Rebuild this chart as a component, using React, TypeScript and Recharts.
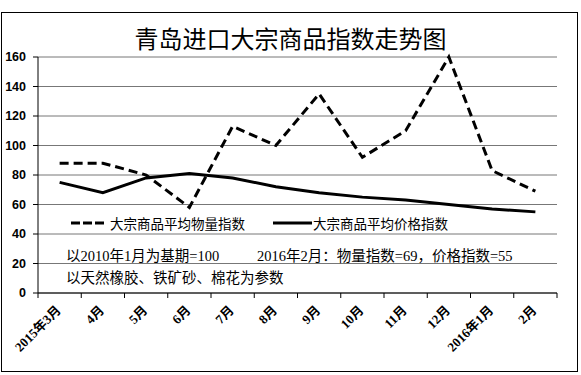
import { LineChart, Line, XAxis, YAxis, CartesianGrid } from 'recharts';

const months = ['2015年3月', '4月', '5月', '6月', '7月', '8月', '9月', '10月', '11月', '12月', '2016年1月', '2月'];
const volumeIndex = [88, 88, 80, 58, 113, 100, 135, 92, 110, 160, 83, 69];
const priceIndex = [75, 68, 78, 81, 78, 72, 68, 65, 63, 60, 57, 55];
const yTicks = [0, 20, 40, 60, 80, 100, 120, 140, 160];

const title = '青岛进口大宗商品指数走势图';
const volumeName = '大宗商品平均物量指数';
const priceName = '大宗商品平均价格指数';
const noteBase = '以2010年1月为基期=100';
const noteLatest = '2016年2月：物量指数=69，价格指数=55';
const noteParams = '以天然橡胶、铁矿砂、棉花为参数';

const W = 581;
const H = 375;
const PLOT_LEFT = 38;
const PLOT_RIGHT = 557;
const PLOT_TOP = 57;
const PLOT_BOTTOM = 293;
const step = (PLOT_RIGHT - PLOT_LEFT) / months.length;

const data = months.map((m, i) => ({ month: m, volume: volumeIndex[i], price: priceIndex[i] }));

const textFont = "'Liberation Serif', 'Noto Sans CJK SC', serif";
const cjkFont = "'Noto Sans CJK SC', sans-serif";

function MonthTick(props: any) {
  const { x, y, payload, index } = props;
  const ax = x + 2;
  const ay = y + 18;
  return (
    <g>
      <line x1={x - step / 2} x2={x - step / 2} y1={y} y2={y + 5} stroke="#000" />
      {index === months.length - 1 && (
        <line x1={x + step / 2} x2={x + step / 2} y1={y} y2={y + 5} stroke="#000" />
      )}
      <text
        x={ax}
        y={ay}
        transform={`rotate(-45 ${ax} ${ay})`}
        textAnchor="end"
        fontSize={13}
        fontWeight="bold"
        fontFamily={textFont}
        fill="#000"
      >
        {payload.value}
      </text>
    </g>
  );
}

function LegendItem({ dashed, label, left, width }: { dashed: boolean; label: string; left: number; width: number }) {
  return (
    <div style={{ position: 'absolute', left, top: 213, height: 20, display: 'flex', alignItems: 'center' }}>
      <svg width={width} height={6} style={{ display: 'block' }}>
        <line x1={0} x2={width} y1={3} y2={3} stroke="#000" strokeWidth={3} strokeDasharray={dashed ? '9 3' : undefined} />
      </svg>
      <span style={{ marginLeft: dashed ? 5 : 1, fontSize: 13.5, fontFamily: cjkFont, color: '#000', whiteSpace: 'nowrap' }}>
        {label}
      </span>
    </div>
  );
}

function Note({ text, left, top }: { text: string; left: number; top: number }) {
  return (
    <div
      style={{
        position: 'absolute',
        left,
        top,
        height: 20,
        lineHeight: '20px',
        fontSize: 14.5,
        fontFamily: textFont,
        color: '#000',
        whiteSpace: 'nowrap',
      }}
    >
      {text}
    </div>
  );
}

export default function App() {
  return (
    <div style={{ position: 'absolute', left: 0, top: 0, width: W, height: H, background: '#fff' }}>
      <div
        style={{
          position: 'absolute',
          left: 1,
          top: 12,
          width: 577,
          height: 360,
          border: '1.5px solid #000',
          boxSizing: 'border-box',
        }}
      />
      <div
        style={{
          position: 'absolute',
          left: 0,
          top: 24,
          width: W,
          height: 28,
          lineHeight: '28px',
          textAlign: 'center',
          fontSize: 24,
          fontFamily: cjkFont,
          color: '#000',
        }}
      >
        {title}
      </div>
      <div style={{ position: 'absolute', left: 0, top: 0 }}>
        <LineChart
          width={W}
          height={H}
          data={data}
          margin={{ top: PLOT_TOP, right: W - PLOT_RIGHT, bottom: 0, left: 0 }}
        >
          <CartesianGrid vertical={false} stroke="#777" />
          <XAxis
            dataKey="month"
            interval={0}
            height={H - PLOT_BOTTOM}
            padding={{ left: step / 2, right: step / 2 }}
            axisLine={{ stroke: '#000' }}
            tickLine={false}
            tickSize={0}
            tickMargin={0}
            tick={<MonthTick />}
          />
          <YAxis
            width={PLOT_LEFT}
            domain={[0, 160]}
            ticks={yTicks}
            interval={0}
            axisLine={{ stroke: '#000' }}
            tickLine={{ stroke: '#000' }}
            tickSize={5}
            tickMargin={7}
            tick={{ fontSize: 12.5, fontWeight: 'bold', fontFamily: "'Liberation Sans', Arial, sans-serif", fill: '#000' }}
          />
          <Line
            type="linear"
            dataKey="volume"
            name={volumeName}
            stroke="#000"
            strokeWidth={3}
            strokeDasharray="9 5"
            dot={false}
            isAnimationActive={false}
          />
          <Line
            type="linear"
            dataKey="price"
            name={priceName}
            stroke="#000"
            strokeWidth={3}
            dot={false}
            isAnimationActive={false}
          />
        </LineChart>
      </div>
      <LegendItem dashed label={volumeName} left={71} width={34} />
      <LegendItem dashed={false} label={priceName} left={273} width={39} />
      <Note text={noteBase} left={66} top={246} />
      <Note text={noteLatest} left={257} top={246} />
      <Note text={noteParams} left={66} top={268} />
    </div>
  );
}
